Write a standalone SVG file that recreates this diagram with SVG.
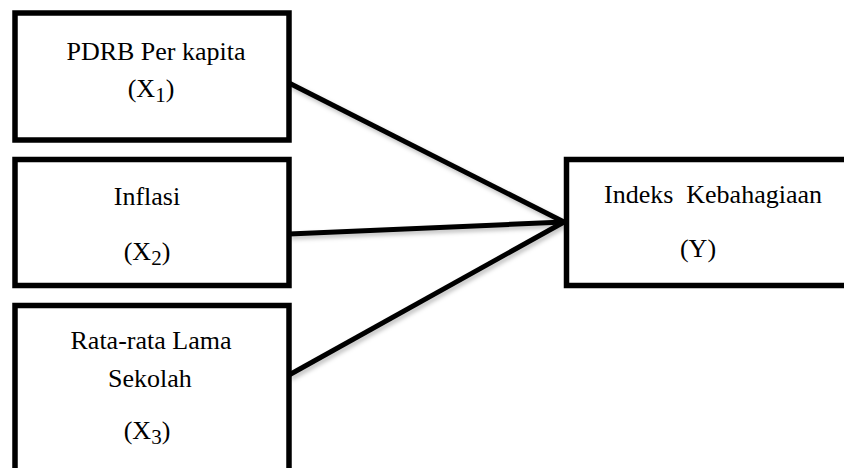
<svg xmlns="http://www.w3.org/2000/svg" width="844" height="468" viewBox="0 0 844 468">
  <style>
    .box { fill: #ffffff; stroke: #000000; stroke-width: 5.5; }
    .conn { stroke: #000000; stroke-width: 5; stroke-linecap: butt; fill: none; }
    .t { font-family: "Liberation Serif", "Times New Roman", serif; font-size: 26px; fill: #000000; text-anchor: middle; white-space: pre; }
    .sub { font-size: 21px; }
  </style>
  <defs>
    <filter id="shadow" x="-10%" y="-10%" width="120%" height="130%">
      <feDropShadow dx="2" dy="3" stdDeviation="2" flood-color="#000000" flood-opacity="0.25"/>
    </filter>
  </defs>
  <rect width="844" height="468" fill="#ffffff"/>
  <g id="connectors" filter="url(#shadow)">
    <line class="conn" x1="289" y1="83" x2="564" y2="222"/>
    <line class="conn" x1="289" y1="234" x2="564" y2="222"/>
    <line class="conn" x1="289" y1="375" x2="564" y2="222"/>
  </g>
  <g id="node-x1">
    <rect class="box" x="15" y="13" width="274" height="127"/>
    <text class="t" x="156" y="60">PDRB Per kapita</text>
    <text class="t" x="151" y="97">(X<tspan class="sub" dy="5">1</tspan><tspan dy="-5">)</tspan></text>
  </g>
  <g id="node-x2">
    <rect class="box" x="15" y="159.5" width="274" height="126"/>
    <text class="t" x="147" y="205">Inflasi</text>
    <text class="t" x="147" y="260">(X<tspan class="sub" dy="5">2</tspan><tspan dy="-5">)</tspan></text>
  </g>
  <g id="node-x3">
    <rect class="box" x="15" y="305.5" width="274" height="180"/>
    <text class="t" x="151" y="349">Rata-rata Lama</text>
    <text class="t" x="150" y="387">Sekolah</text>
    <text class="t" x="147" y="439">(X<tspan class="sub" dy="5">3</tspan><tspan dy="-5">)</tspan></text>
  </g>
  <g id="node-y">
    <rect class="box" x="566.5" y="159.5" width="290" height="126"/>
    <text class="t" x="713" y="203">Indeks  Kebahagiaan</text>
    <text class="t" x="698" y="257">(Y)</text>
  </g>
</svg>
